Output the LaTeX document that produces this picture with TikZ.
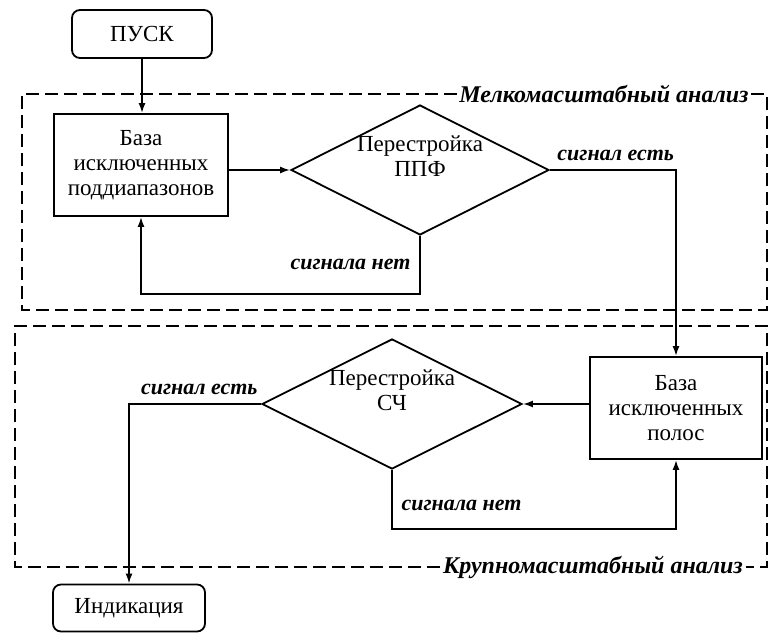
\documentclass[tikz,border=0pt]{standalone}
\usepackage{fontspec}
\setmainfont{Liberation Serif}
\usetikzlibrary{shapes.geometric,arrows.meta,positioning}

\begin{document}
\begin{tikzpicture}[x=0.5pt,y=-0.5pt,line width=0.9pt,>={Latex[length=5pt,width=3.5pt]},
        term/.style={draw,rounded corners=4pt,inner sep=0pt,font=\fontsize{11.5}{12.5}\selectfont},
        block/.style={draw,align=center,inner sep=0pt,minimum width=87pt,minimum height=51pt,font=\fontsize{11.5}{12.5}\selectfont},
        decision/.style={draw,diamond,inner sep=0pt,minimum width=129pt,minimum height=65pt},
        txt/.style={align=center,font=\fontsize{11.5}{12.5}\selectfont},
        answer/.style={font=\fontsize{11}{12}\selectfont\bfseries\itshape},
        zone/.style={font=\fontsize{12}{13}\selectfont\bfseries\itshape,inner sep=1pt},
        frame/.style={dashed,dash pattern=on 6.5pt off 3pt,line width=0.6pt}]
    \useasboundingbox (0,0) rectangle (770,636);
    \node[term,minimum width=70pt,minimum height=24pt] (pusk) at (142,34) {ПУСК};      % Start
    \node[block] (baza1) at (141,165) {База\\исключенных\\поддиапазонов};
    \node[decision,label={[txt,yshift=7pt]center:Перестройка\\ППФ}] (ppf) at (420,170) {};
    \node[block,minimum width=86pt] (baza2) at (676,408) {База\\исключенных\\полос};
    \node[decision,minimum width=130pt,label={[txt,yshift=7pt]center:Перестройка\\СЧ}] (sch) at (392,404) {};
    \node[term,minimum width=76pt,minimum height=23.5pt] (ind) at (129,608) {Индикация}; % Finish
    % Dashed zones
    \node[zone] (zone1) at (604,94) {Мелкомасштабный анализ};
    \draw[frame] (zone1.west) -- (22,94) -- (22,310) -- (767,310) -- (767,94) -- (zone1.east);
    \node[zone] (zone2) at (593,567) {Крупномасштабный анализ};
    \draw[frame] (zone2.west) -- (15,567) -- (15,326) -- (767,326) -- (767,567) -- (zone2.east);
    % Connectors
    \draw[->] (pusk) -- (pusk |- baza1.north);
    \draw[->] (baza1.east |- ppf.west) -- (ppf.west);
    \draw[->] (ppf.east) node[answer,above right=1pt and 0pt]{сигнал есть} -| (baza2.north);
    \draw[->] (ppf.south) -- ++(0,58) node[answer,pos=0.5,left=1pt]{сигнала нет} -| (baza1.south);
    \draw[->] (baza2.west |- sch.east) -- (sch.east);
    \draw[->] (sch.south) -- ++(0,59) node[answer,pos=0.6,right=1pt]{сигнала нет} -| (baza2.south);
    \draw[->] (sch.west) node[answer,above left=1pt and -2pt]{сигнал есть} -| (ind.north);
\end{tikzpicture}
\end{document}
